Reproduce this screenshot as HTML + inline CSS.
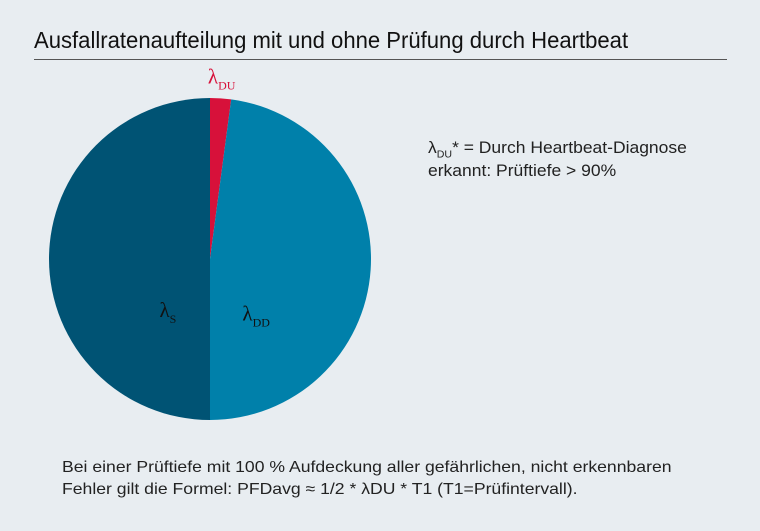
<!DOCTYPE html>
<html><head><meta charset="utf-8"><style>
body{margin:0;width:760px;height:531px;background:#e8edf1;font-family:"Liberation Sans",sans-serif;overflow:hidden;position:relative}
.t{position:absolute;left:34px;top:27px;font-size:23px;color:#111;white-space:nowrap;transform:scaleX(0.96);transform-origin:left top}
.rule{position:absolute;left:34px;top:59px;width:693px;height:1px;background:#555}
.note{position:absolute;left:428px;top:137px;font-size:16.5px;line-height:23px;color:#222;white-space:nowrap;transform:scaleX(1.06);transform-origin:left top}
.foot{position:absolute;left:62px;top:457px;font-size:16px;line-height:22px;color:#222;white-space:nowrap;transform:scaleX(1.1);transform-origin:left top}
sub{font-size:10px;line-height:0}
</style></head><body>
<div class="t">Ausfallratenaufteilung mit und ohne Prüfung durch Heartbeat</div>
<div class="rule"></div>
<svg width="760" height="531" style="position:absolute;left:0;top:0">
<g id="slices"></g>
<g id="labels" font-family="Liberation Serif, serif" font-size="21"></g>
</svg>
<div class="note">λ<sub>DU</sub>* = Durch Heartbeat-Diagnose<br>erkannt: Prüftiefe &gt; 90%</div>
<div class="foot">Bei einer Prüftiefe mit 100 % Aufdeckung aller gefährlichen, nicht erkennbaren<br>Fehler gilt die Formel: PFDavg ≈ 1/2 * λDU * T1 (T1=Prüfintervall).</div>
<script>
const categories=["DU","DD","S"];
const values=[2.1,47.9,50];
const colors=["#d7113a","#0080aa","#005374"];
const cx=210,cy=259,r=161;
const total=values.reduce((a,b)=>a+b,0);
const g=document.getElementById('slices');
const lg=document.getElementById('labels');
const NS="http://www.w3.org/2000/svg";
let a=0;
function pt(ang,rr){return [cx+rr*Math.sin(ang),cy-rr*Math.cos(ang)];}
values.forEach((v,i)=>{
  const a0=a,a1=a+v/total*2*Math.PI;a=a1;
  const p0=pt(a0,r),p1=pt(a1,r);
  const p=document.createElementNS(NS,'path');
  p.setAttribute('d',`M${cx},${cy}L${p0[0]},${p0[1]}A${r},${r} 0 ${a1-a0>Math.PI?1:0} 1 ${p1[0]},${p1[1]}Z`);
  p.setAttribute('fill',colors[i]);
  
  
  g.appendChild(p);
  const t=document.createElementNS(NS,'text');
  let x,y,col="#111";
  if(i===0){const m=pt((a0+a1)/2,r+20);x=m[0]-14;y=m[1]+5;col="#d7113a";}
  else{const m=pt((a0+a1)/2,r*0.32);x=m[0]-12+(i===1?-7:13);y=m[1]+58;}
  t.setAttribute('x',x);t.setAttribute('y',y);t.setAttribute('fill',col);
  t.innerHTML='λ<tspan font-size="12" dy="6">'+categories[i]+'</tspan>';
  
  
  lg.appendChild(t);
});
</script>
</body></html>
